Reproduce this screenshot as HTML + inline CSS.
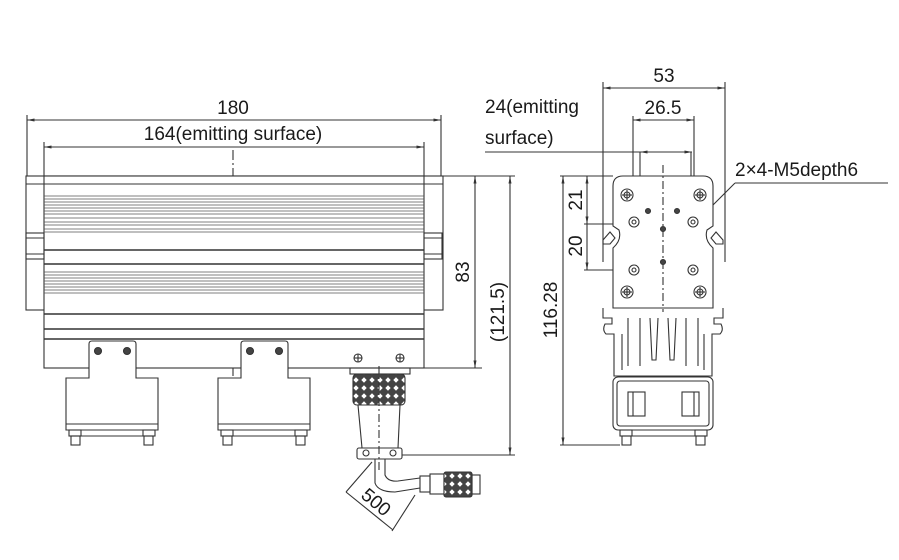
<!DOCTYPE html>
<html><head><meta charset="utf-8"><style>
html,body{margin:0;padding:0;background:#fff;}
svg{display:block;}
text{font-family:"Liberation Sans",Arial,sans-serif;fill:#1a1a1a;}
</style></head><body>
<svg width="899" height="560" viewBox="0 0 899 560" xmlns="http://www.w3.org/2000/svg">
<defs>
<marker id="a" viewBox="0 0 10 10" refX="10" refY="5" markerWidth="7" markerHeight="7" orient="auto-start-reverse"><path d="M0,3 L10,5 L0,7 z" fill="#333"/></marker>
<pattern id="kn" width="8" height="8" patternUnits="userSpaceOnUse"><rect width="8" height="8" fill="#444"/><path d="M4,1.3 L6.7,4 L4,6.7 L1.3,4z" fill="#fff"/></pattern>
</defs>
<g stroke="#333" stroke-width="1.1" fill="none">
<line x1="27" y1="115" x2="27" y2="176"/><line x1="441" y1="115" x2="441" y2="176"/>
<line x1="27" y1="120" x2="441" y2="120" marker-start="url(#a)" marker-end="url(#a)"/>
<line x1="44" y1="142" x2="44" y2="176"/><line x1="424" y1="142" x2="424" y2="176"/>
<line x1="44" y1="147" x2="424" y2="147" marker-start="url(#a)" marker-end="url(#a)"/>
<line x1="233" y1="150" x2="233" y2="432" stroke-dasharray="10,3,2,3"/>
<rect x="26" y="176" width="417" height="134"/>
<rect x="44" y="176" width="380" height="192" fill="#fff"/>
<line x1="26" y1="184" x2="443" y2="184"/>
<g stroke="#555" stroke-width="0.8">
<line x1="44" y1="196" x2="424" y2="196"/><line x1="44" y1="199" x2="424" y2="199"/><line x1="44" y1="202" x2="424" y2="202"/><line x1="44" y1="205" x2="424" y2="205"/><line x1="44" y1="208" x2="424" y2="208"/><line x1="44" y1="211" x2="424" y2="211"/><line x1="44" y1="214" x2="424" y2="214"/><line x1="44" y1="218" x2="424" y2="218"/><line x1="44" y1="222" x2="424" y2="222"/><line x1="44" y1="225" x2="424" y2="225"/><line x1="44" y1="229" x2="424" y2="229"/><line x1="44" y1="232" x2="424" y2="232"/>
<line x1="44" y1="272" x2="424" y2="272"/><line x1="44" y1="275" x2="424" y2="275"/><line x1="44" y1="278" x2="424" y2="278"/><line x1="44" y1="281" x2="424" y2="281"/><line x1="44" y1="284" x2="424" y2="284"/><line x1="44" y1="287" x2="424" y2="287"/><line x1="44" y1="290" x2="424" y2="290"/><line x1="44" y1="293" x2="424" y2="293"/>
</g>
<line x1="44" y1="250" x2="424" y2="250" stroke-width="1.6"/>
<line x1="44" y1="264" x2="424" y2="264" stroke-width="1.6"/>
<line x1="44" y1="314" x2="424" y2="314" stroke-width="1.6"/>
<line x1="44" y1="329" x2="424" y2="329" stroke-width="1.6"/>
<line x1="44" y1="339" x2="424" y2="339" stroke-width="1.6"/>
<rect x="26" y="233" width="18" height="26"/><line x1="26" y1="238" x2="44" y2="238"/><line x1="26" y1="254" x2="44" y2="254"/>
<rect x="424" y="233" width="18" height="26"/><line x1="424" y1="238" x2="442" y2="238"/><line x1="424" y1="254" x2="442" y2="254"/>
<g id="br">
<path d="M89,378 L89,344 Q89,341 92,341 L133,341 Q136,341 136,344 L136,378 L158,378 L158,430 L66,430 L66,378 Z" fill="#fff"/>
<circle cx="98" cy="351" r="3.5" fill="#444"/><circle cx="127" cy="351" r="3.5" fill="#444"/>
<line x1="66" y1="424" x2="158" y2="424"/><line x1="80" y1="436" x2="144" y2="436"/>
<rect x="69" y="430" width="12" height="6"/><rect x="71" y="436" width="9" height="9"/>
<rect x="143" y="430" width="12" height="6"/><rect x="144" y="436" width="9" height="9"/>
</g>
<use href="#br" x="152"/>
<circle cx="358" cy="358" r="4"/><line x1="354" y1="358" x2="362" y2="358"/><line x1="358" y1="354" x2="358" y2="362"/>
<circle cx="400" cy="358" r="4"/><line x1="396" y1="358" x2="404" y2="358"/><line x1="400" y1="354" x2="400" y2="362"/>
<rect x="350" y="368" width="60" height="6"/>
<rect x="353" y="374" width="52" height="31" rx="4" fill="url(#kn)"/>
<path d="M358,405 L400,405 L398,448 L362,448 Z"/>
<rect x="357" y="448" width="45" height="11" rx="2"/>
<circle cx="366" cy="453" r="3"/><circle cx="393" cy="453" r="3"/>
<line x1="379" y1="366" x2="379" y2="470" stroke-dasharray="8,3,2,3"/>
<path d="M375,459 L375,483 Q378,492 395,492 L420,488"/>
<path d="M385,459 L385,475 Q388,482 398,481 L420,478"/>
<rect x="420" y="476" width="10" height="16"/><rect x="430" y="474" width="14" height="20"/>
<rect x="444" y="472" width="28" height="25" rx="2" fill="url(#kn)"/><rect x="472" y="475" width="8" height="19"/>
<line x1="372" y1="462" x2="346" y2="492"/>
<line x1="346" y1="492" x2="393" y2="530"/>
<line x1="415" y1="495" x2="392" y2="531"/>
<line x1="443" y1="176" x2="515" y2="176"/>
<line x1="420" y1="368" x2="482" y2="368"/>
<line x1="475" y1="176" x2="475" y2="368" marker-start="url(#a)" marker-end="url(#a)"/>
<line x1="402" y1="455" x2="515" y2="455"/>
<line x1="510" y1="176" x2="510" y2="455" marker-start="url(#a)" marker-end="url(#a)"/>
<line x1="603" y1="82" x2="603" y2="262"/><line x1="725" y1="82" x2="725" y2="262"/>
<line x1="603" y1="88" x2="725" y2="88" marker-start="url(#a)" marker-end="url(#a)"/>
<line x1="633" y1="116" x2="633" y2="200"/><line x1="694" y1="116" x2="694" y2="200"/>
<line x1="633" y1="120" x2="694" y2="120" marker-start="url(#a)" marker-end="url(#a)"/>
<line x1="485" y1="152" x2="692" y2="152"/>
<line x1="640" y1="152" x2="692" y2="152" marker-start="url(#a)" marker-end="url(#a)"/>
<line x1="640" y1="152" x2="640" y2="178"/><line x1="691" y1="152" x2="691" y2="178"/>
<line x1="735" y1="183" x2="888" y2="183"/><line x1="735" y1="183" x2="706" y2="212"/>
<line x1="560" y1="176" x2="613" y2="176"/>
<line x1="584" y1="224" x2="630" y2="224"/><line x1="584" y1="270" x2="630" y2="270"/>
<line x1="587" y1="176" x2="587" y2="224" marker-start="url(#a)" marker-end="url(#a)"/>
<line x1="587" y1="224" x2="587" y2="270" marker-end="url(#a)"/>
<line x1="560" y1="445" x2="620" y2="445"/>
<line x1="563" y1="176" x2="563" y2="445" marker-start="url(#a)" marker-end="url(#a)"/>
<path d="M603,308 L603,318 L612,318 L612,324 L605,324 Q602,330 606,334 L614,334 L614,376 L712,376 L712,334 L720,334 Q724,330 721,324 L714,324 L714,318 L723,318 L723,308"/>
<path d="M622,334 L622,370 M628,318 L628,366 M640,318 L640,366 M650,318 L652,360 L656,360 L658,318 M668,318 L670,360 L674,360 L676,318 M686,318 L686,366 M698,318 L698,366 M704,334 L704,370"/>
<path d="M623,176 L703,176 Q713,176 713,186 L713,226 L707,230 Q704,240 713,248 L713,308 L613,308 L613,248 Q622,240 619,230 L613,226 L613,186 Q613,176 623,176 Z" fill="#fff"/>
<path d="M603,240 L610,232 L615,238 L610,244 L603,244 Z"/>
<path d="M723,240 L716,232 L711,238 L716,244 L723,244 Z"/>
<line x1="663" y1="165" x2="663" y2="312" stroke-dasharray="8,3,2,3"/>
<g id="ch"><circle cx="627" cy="195" r="6"/><circle cx="627" cy="195" r="3"/><line x1="622" y1="195" x2="632" y2="195"/><line x1="627" y1="190" x2="627" y2="200"/></g>
<use href="#ch" x="73"/><use href="#ch" y="97"/><use href="#ch" x="73" y="97"/>
<circle cx="634" cy="222" r="5"/><circle cx="693" cy="222" r="5"/><circle cx="634" cy="270" r="5"/><circle cx="693" cy="270" r="5"/>
<circle cx="634" cy="222" r="2"/><circle cx="693" cy="222" r="2"/><circle cx="634" cy="270" r="2"/><circle cx="693" cy="270" r="2"/>
<circle cx="648" cy="211" r="2.5" fill="#444"/><circle cx="677" cy="211" r="2.5" fill="#444"/><circle cx="663" cy="229" r="2.5" fill="#444"/><circle cx="663" cy="262" r="2.5" fill="#444"/>
<rect x="613" y="377" width="100" height="53" rx="5" fill="#fff"/>
<rect x="617" y="381" width="92" height="45" rx="3"/>
<rect x="628" y="392" width="17" height="24"/><line x1="633" y1="392" x2="633" y2="416"/>
<rect x="682" y="392" width="17" height="24"/><line x1="694" y1="392" x2="694" y2="416"/>
<line x1="630" y1="436" x2="698" y2="436"/>
<rect x="620" y="430" width="12" height="6"/><rect x="622" y="436" width="9" height="9"/>
<rect x="695" y="430" width="12" height="6"/><rect x="696" y="436" width="9" height="9"/>
</g>
<g font-size="19">
<text x="233" y="114" text-anchor="middle">180</text>
<text x="233" y="140" text-anchor="middle">164(emitting surface)</text>
<text x="664" y="82" text-anchor="middle">53</text>
<text x="663" y="114" text-anchor="middle">26.5</text>
<text x="485" y="113">24(emitting</text>
<text x="485" y="144">surface)</text>
<text x="735" y="176">2×4-M5depth6</text>
<text transform="translate(469,272) rotate(-90)" text-anchor="middle">83</text>
<text transform="translate(504,312) rotate(-90)" text-anchor="middle">(121.5)</text>
<text transform="translate(582,200) rotate(-90)" text-anchor="middle">21</text>
<text transform="translate(582,246) rotate(-90)" text-anchor="middle">20</text>
<text transform="translate(557,310) rotate(-90)" text-anchor="middle">116.28</text>
<text transform="translate(372,507) rotate(40)" text-anchor="middle">500</text>
</g>
</svg>
</body></html>
